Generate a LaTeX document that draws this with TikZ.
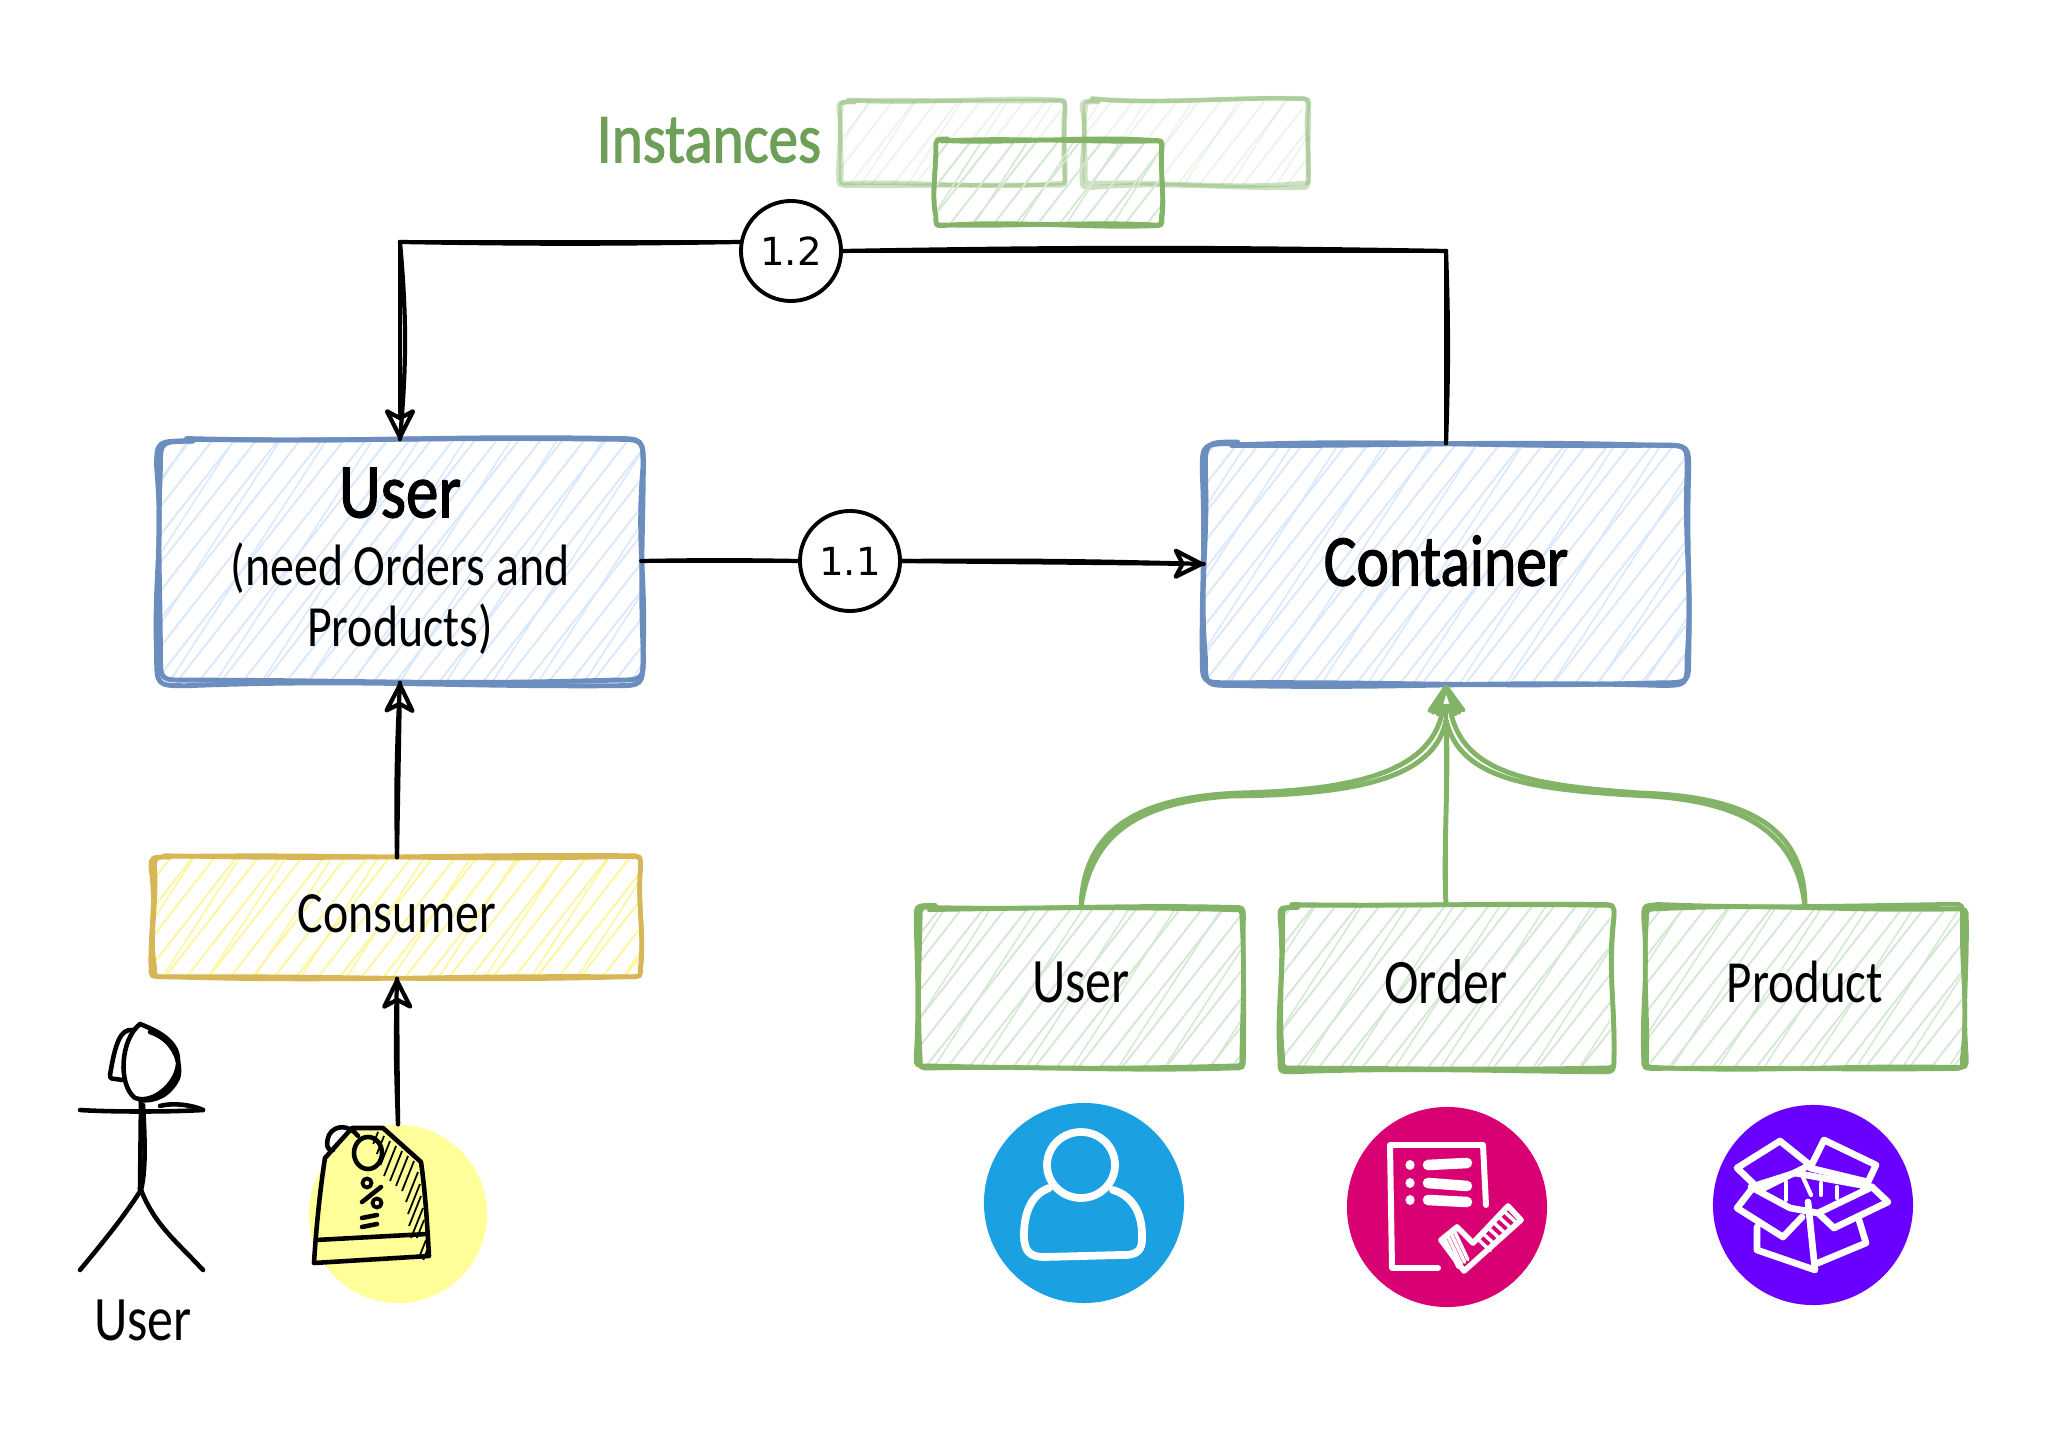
\documentclass[tikz,border=0pt]{standalone}
\usepackage{fontspec}
\usepackage{xcolor}
\usepackage{tikz}
\usetikzlibrary{calc}
\usetikzlibrary{arrows.meta,patterns.meta}
\setmainfont{Carlito}[FakeStretch=0.82]
\newfontfamily\heavyfont{Carlito}[FakeStretch=0.84,FakeBold=1.5]
\newfontfamily\numfont{DejaVu Sans}
\definecolor{blueline}{HTML}{6C8EBF}
\definecolor{bluefill}{HTML}{DAE8FC}
\definecolor{greenline}{HTML}{82B366}
\definecolor{greenfill}{HTML}{D5E8D4}
\definecolor{yellowline}{HTML}{D6B656}
\definecolor{yellowfill}{HTML}{FFF59D}
\definecolor{tagyellow}{HTML}{FFFF99}
\definecolor{instgreen}{HTML}{6D9F58}
\definecolor{discblue}{HTML}{1BA1E2}
\definecolor{discpink}{HTML}{D80073}
\definecolor{discpurple}{HTML}{6A00FF}
\tikzset{
  sketchbox/.style n args={3}{minimum width=#1,minimum height=#2,align=center,inner sep=0pt,rounded corners=5pt,
    preaction={pattern={Lines[angle=52,distance=4.9pt,line width=0.55pt]},pattern color=#3},
    preaction={pattern={Lines[angle=57,distance=11pt,line width=0.45pt]},pattern color=#3}},
  bluebox/.style 2 args={sketchbox={#1}{#2}{bluefill}},
  greenbox/.style 2 args={sketchbox={#1}{#2}{greenfill}},
  yellowbox/.style 2 args={sketchbox={#1}{#2}{yellowfill}},
  bluestroke/.style={draw=blueline,line width=1.4pt,line cap=round},
  greenstroke/.style={draw=greenline,line width=1.3pt,line cap=round},
  yellowstroke/.style={draw=yellowline,line width=1.3pt,line cap=round},
  stepcircle/.style={draw,circle,line width=1.1pt,fill=white,minimum size=1cm,inner sep=0pt,font=\numfont\fontsize{11}{13}\selectfont},
  conn/.style={line width=1.2pt,line cap=round},
  tip/.style={-{Stealth[open,inset=2.6pt,length=10pt,width=10pt,line width=1.2pt,round]}},
  disc/.style={circle,fill=#1,minimum size=2cm,inner sep=0pt},
  icon/.style={draw=white,line width=2.2pt,line cap=round,line join=round},
  ink/.style={draw=black,line width=1.3pt,line cap=round,line join=round},
  handtext/.style={font=\fontsize{#1}{#1}\selectfont},
}
% two wobbly strokes round a node: node, stroke style, corner size
\newcommand{\roughframe}[3]{%
  \foreach \pass in {1,2} {
    \pgfmathsetmacro{\ja}{6*rnd-3}
    \pgfmathsetmacro{\jb}{6*rnd-3}
    \pgfmathsetmacro{\jc}{6*rnd-3}
    \pgfmathsetmacro{\jd}{6*rnd-3}
    \pgfmathsetmacro{\bowa}{10*rnd-5}
    \pgfmathsetmacro{\bowb}{10*rnd-5}
    \draw[#2] ($(#1.north west)+(#3,\ja)$)
      .. controls ($(#1.north)+(-40,\bowa)$) and ($(#1.north)+(40,-\bowa)$) .. ($(#1.north east)+(-#3,\ja)$)
      .. controls ($(#1.north east)+(\jb,\ja)$) .. ($(#1.north east)+(\jb,#3)$)
      .. controls ($(#1.east)+(\bowb,-15)$) and ($(#1.east)+(-\bowb,15)$) .. ($(#1.south east)+(\jb,-#3)$)
      .. controls ($(#1.south east)+(\jb,\jc)$) .. ($(#1.south east)+(-#3,\jc)$)
      .. controls ($(#1.south)+(40,\bowa)$) and ($(#1.south)+(-40,-\bowa)$) .. ($(#1.south west)+(#3,\jc)$)
      .. controls ($(#1.south west)+(\jd,\jc)$) .. ($(#1.south west)+(\jd,-#3)$)
      .. controls ($(#1.west)+(\bowb,15)$) and ($(#1.west)+(-\bowb,-15)$) .. ($(#1.north west)+(\jd,#3)$)
      .. controls ($(#1.north west)+(\jd,\jb)$) .. ($(#1.north west)+(#3+6,\jb)$);
  }
}
% one straight stroke and one slightly bent stroke
\newcommand{\roughlink}[4][]{%
  \draw[conn,#1] (#2) -- (#3);
  \draw[conn] (#2) to[bend left=#4] (#3);
}
\begin{document}
\begin{tikzpicture}[x=0.01cm,y=-0.01cm]
\useasboundingbox (0,0) rectangle (2048,1440);
\pgfmathsetseed{4271}

% Instances
\node[greenbox={2.22cm}{0.83cm},opacity=0.45] (insta) at (952,143) {};
\roughframe{insta}{greenstroke,opacity=0.4}{8}
\node[greenbox={2.22cm}{0.83cm},opacity=0.45] (instb) at (1196,143) {};
\roughframe{instb}{greenstroke,opacity=0.4}{8}
\node[greenbox={2.27cm}{0.83cm}] (instc) at (1048,182) {};
\roughframe{instc}{greenstroke}{8}
\node[handtext=20,text=instgreen] (insttext) at (709,140) {\heavyfont Instances};

% Main boxes
\node[bluebox={4.81cm}{2.42cm},handtext=16.6] (user) at (400,561) {{\fontsize{22}{22}\selectfont\heavyfont User}\\[2.9pt](need Orders and\\[0.5pt]Products)};
\roughframe{user}{bluestroke}{28}
\node[bluebox={4.83cm}{2.40cm},handtext=20.8] (container) at (1446,564) {\raisebox{2pt}{\heavyfont Container}};
\roughframe{container}{bluestroke}{28}
\node[yellowbox={4.86cm}{1.20cm},handtext=16.6] (consumer) at (397,918) {\raisebox{2.3pt}{Consumer}};
\roughframe{consumer}{yellowstroke}{11}

% Service boxes
\node[greenbox={3.24cm}{1.60cm},handtext=18] (guser) at (1081,988) {\raisebox{3.3pt}{User}};
\roughframe{guser}{greenstroke}{11}
\node[greenbox={3.29cm}{1.63cm},handtext=18] (gorder) at (1446,987) {\raisebox{3.3pt}{Order}};
\roughframe{gorder}{greenstroke}{11}
\node[greenbox={3.18cm}{1.60cm},handtext=17] (gproduct) at (1805,988) {\raisebox{3.3pt}{Product}};
\roughframe{gproduct}{greenstroke}{11}

% Icon discs
\node[disc=tagyellow,minimum size=1.78cm] (tagdisc) at (398,1214) {};
\node[disc=discblue] (userdisc) at (1084,1203) {};
\node[disc=discpink] (orderdisc) at (1447,1207) {};
\node[disc=discpurple] (productdisc) at (1813,1205) {};

% Step circles
\node[stepcircle] (step12) at (791,251) {1.2};
\node[stepcircle] (step11) at (850,561) {1.1};

% Arrows
\coordinate (turnleft) at (step12.170 -| user.north);
\coordinate (turnright) at (step12.east -| container.north);
\roughlink{step12.170}{turnleft}{1}
\roughlink[tip]{turnleft}{user.north}{5}
\roughlink{step12.east}{turnright}{1}
\roughlink{turnright}{container.north}{2}
\roughlink{user.east}{step11.west}{1}
\roughlink[tip]{step11.east}{container.west}{1}
\roughlink[tip]{consumer.north}{user.south}{2}
\roughlink[tip]{tagdisc.north}{consumer.south}{2}

% Green arrows
\begin{scope}[greenline,line width=1.4pt]
\draw[tip] (guser.north) .. controls (1083,835) and (1130,797) .. (1241,793) .. controls (1360,790) and (1435,770) .. (container.south);
\draw (guser.north) .. controls (1090,840) and (1130,803) .. (1230,796) .. controls (1350,795) and (1435,780) .. (1446,720);
\draw[tip] (gproduct.north) .. controls (1805,835) and (1760,797) .. (1640,793) .. controls (1520,785) and (1460,770) .. (container.south);
\draw (gproduct.north) .. controls (1798,840) and (1755,803) .. (1650,796) .. controls (1530,790) and (1460,780) .. (1446,720);
\draw[tip] (gorder.north) -- (container.south);
\draw (gorder.north) .. controls (1443,850) and (1449,780) .. (1446,720);
\end{scope}

% Stick figure
\coordinate (neck) at (141,1100);
\coordinate (hip) at (141,1190);
\node[handtext=18] (figtext) at (143,1320) {User};
\draw[ink] (140,1024) .. controls (120,1040) and (118,1085) .. (135,1098) .. controls (155,1105) and (180,1080) .. (178,1060) .. controls (178,1040) and (155,1030) .. (140,1024);
\draw[ink] (133,1030) .. controls (120,1028) and (115,1045) .. (110,1075) .. controls (110,1080) and (112,1078) .. (122,1080);
\draw[ink] (150,1032) .. controls (175,1040) and (182,1065) .. (178,1078) .. controls (170,1095) and (155,1102) .. (140,1100);
\draw[ink] (80,1110) .. controls (110,1112) and (170,1112) .. (203,1110);
\draw[ink] (160,1106) .. controls (175,1102) and (195,1106) .. (203,1110);
\draw[ink] (neck) -- (140,1190);
\draw[ink] (143,1105) .. controls (145,1140) and (146,1170) .. (hip);
\draw[ink] (hip) .. controls (125,1215) and (105,1240) .. (80,1270);
\draw[ink] (hip) .. controls (155,1225) and (175,1240) .. (203,1270);

% Tag
\fill[tagyellow] (314,1263) -- (429,1256) -- (421,1162) -- (383,1128) -- (352,1128) -- (325,1158) -- cycle;
\draw[ink] (314,1263) -- (429,1256) .. controls (427,1220) and (425,1190) .. (421,1162) -- (383,1128) -- (352,1128) -- (325,1158) .. controls (320,1190) and (316,1230) .. (314,1263);
\draw[ink] (316,1240) -- (427,1234);
\draw[ink] (358,1136) .. controls (350,1125) and (335,1124) .. (329,1135) .. controls (325,1145) and (328,1152) .. (333,1150);
\draw[ink] (368,1153) ellipse (14 and 16);
\foreach \hx/\hy/\hl in {378/1132/0.4,384/1136/0.6,390/1141/0.8,396/1146/1,402/1151/1,408/1156/1,414/1161/1,418/1172/1,420/1184/1,421/1196/1,423/1208/1,424/1220/0.6,426/1240/0.6,428/1248/0.4}
  \draw[black,line width=0.5pt] (\hx,\hy) -- ++(-12*\hl,30*\hl);
% percent sign
\draw[ink,line width=1.1pt] (367,1183) circle (4.5);
\draw[ink,line width=1.1pt] (377,1203) circle (4.5);
\draw[ink] (381,1187) -- (362,1202);
\draw[ink] (362,1218) -- (377,1215);
\draw[ink] (362,1227) -- (377,1224);

% User icon
\draw[icon] (1081,1165) ellipse (34 and 33);
\draw[icon] (1049,1188) .. controls (1030,1195) and (1024,1215) .. (1024,1235) .. controls (1024,1252) and (1030,1257) .. (1045,1257) -- (1120,1255) .. controls (1138,1256) and (1143,1250) .. (1142,1235) .. controls (1142,1210) and (1130,1195) .. (1113,1190);

% Order icon
\draw[icon,line width=1.7pt] (1486,1205) -- (1483,1145) -- (1390,1145) -- (1392,1268) -- (1438,1268);
\foreach \rowy/\rowe in {1165/1163,1183/1186,1200/1202} {
  \draw[icon,line width=2.6pt] (1410,\rowy) -- ++(0.1,0);
  \draw[icon,line width=3pt] (1428,\rowy) -- (1467,\rowe);
}
\draw[icon,line width=1.6pt] (1441,1240) -- (1457,1227) -- (1473,1243) -- (1508,1206) -- (1521,1220) -- (1464,1271) -- cycle;
\foreach \hs in {0.12,0.27,0.42,0.57,0.72,0.87}
  \draw[icon,line width=1pt] ($(1473,1243)!\hs!(1508,1206)$) -- ++(13,12);
\foreach \hs in {0.2,0.4,0.6,0.8}
  \draw[icon,line width=1pt] ($(1441,1240)!\hs!(1457,1227)$) -- ++(14,30);

% Box icon
\draw[icon,line width=1.9pt] (1780,1141) -- (1737,1168) -- (1760,1190) -- (1810,1165) -- cycle;
\draw[icon,line width=1.9pt] (1824,1140) -- (1810,1168) -- (1868,1182) -- (1876,1165) -- cycle;
\draw[icon,line width=1.9pt] (1751,1187) -- (1795,1173) -- (1872,1187) -- (1818,1213) -- (1790,1208) -- cycle;
\draw[icon,line width=1.9pt] (1751,1190) -- (1737,1208) -- (1783,1237) -- (1802,1217);
\draw[icon,line width=1.9pt] (1872,1187) -- (1888,1202) -- (1834,1228) -- (1818,1213);
\draw[icon,line width=1.9pt] (1757,1227) -- (1757,1250) -- (1815,1270) -- (1808,1202);
\draw[icon,line width=1.9pt] (1818,1263) -- (1866,1243) -- (1859,1220);
\draw[icon,line width=1.2pt] (1786,1182) -- (1786,1200);
\draw[icon,line width=1.2pt] (1802,1175) -- (1811,1195);
\draw[icon,line width=1.2pt] (1821,1183) -- (1821,1195);
\draw[icon,line width=1.2pt] (1837,1187) -- (1837,1198);
\end{tikzpicture}
\end{document}
